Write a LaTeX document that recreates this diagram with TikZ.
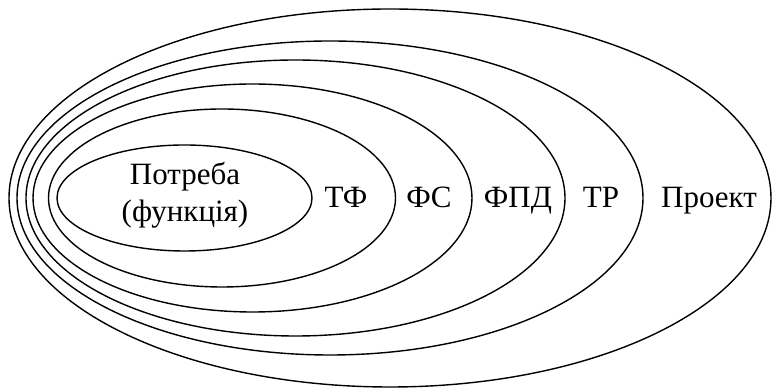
\documentclass[tikz,border=0pt]{standalone}
\usepackage{fontspec}
\setmainfont{Liberation Serif}
\usepackage{tikz}

\begin{document}
\begin{tikzpicture}[
  x=1pt,y=1pt,
  ring/.style={draw,line width=1.4pt},
  lab/.style={font=\fontsize{31}{37}\selectfont,align=center,inner sep=0pt,anchor=base}]
  \useasboundingbox (0,0) rectangle (772,390);
  % nested ellipses, all pushed against the left side
  \draw[ring] (390,192)   ellipse [x radius=381,   y radius=189];
  \draw[ring] (330,192)   ellipse [x radius=313,   y radius=157];
  \draw[ring] (295.5,192) ellipse [x radius=269.5, y radius=138];
  \draw[ring] (252.5,192) ellipse [x radius=219.5, y radius=114];
  \draw[ring] (222,192)   ellipse [x radius=173.5, y radius=89];
  \draw[ring] (184.5,192) ellipse [x radius=127.5, y radius=53];
  % labels in the gaps
  \node[lab] (need)  at (185,205) {Потреба};
  \node[lab] (need2) at (185,168) {(функція)};
  \node[lab] (tf)   at (346,182) {ТФ};
  \node[lab] (fs)   at (429,182) {ФС};
  \node[lab] (fpd)  at (518,182) {ФПД};
  \node[lab] (tr)   at (601,182) {ТР};
  \node[lab] (proj) at (709,182) {Проект};
\end{tikzpicture}
\end{document}
